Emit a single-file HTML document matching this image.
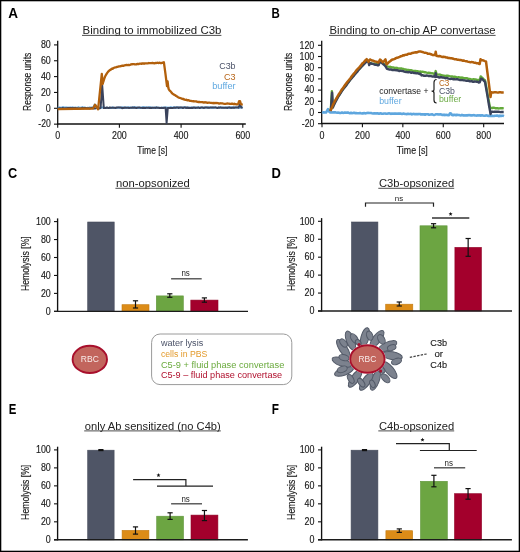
<!DOCTYPE html>
<html><head><meta charset="utf-8"><style>
html,body{margin:0;padding:0;background:#fff;}
svg{display:block;font-family:"Liberation Sans", sans-serif;will-change:transform;}
</style></head><body>
<svg width="520" height="552" viewBox="0 0 520 552">
<rect width="520" height="552" fill="#fff"/>
<rect x="0.6" y="0.6" width="518.8" height="550.8" fill="none" stroke="#000" stroke-width="1.4"/>
<text x="8.20" y="17.90" font-size="14" fill="#000" text-anchor="start" font-weight="bold" textLength="9.8" lengthAdjust="spacingAndGlyphs" >A</text>
<text x="271.60" y="18.10" font-size="14" fill="#000" text-anchor="start" font-weight="bold" textLength="8.3" lengthAdjust="spacingAndGlyphs" >B</text>
<text x="8.10" y="178.20" font-size="14" fill="#000" text-anchor="start" font-weight="bold" textLength="9.2" lengthAdjust="spacingAndGlyphs" >C</text>
<text x="271.60" y="178.20" font-size="14" fill="#000" text-anchor="start" font-weight="bold" textLength="9.4" lengthAdjust="spacingAndGlyphs" >D</text>
<text x="8.80" y="413.80" font-size="14" fill="#000" text-anchor="start" font-weight="bold" textLength="7.6" lengthAdjust="spacingAndGlyphs" >E</text>
<text x="271.80" y="413.80" font-size="14" fill="#000" text-anchor="start" font-weight="bold" textLength="7.2" lengthAdjust="spacingAndGlyphs" >F</text>
<text x="82.60" y="34.30" font-size="11.2" fill="#222" text-anchor="start" font-weight="normal" textLength="138.8" lengthAdjust="spacingAndGlyphs" >Binding to immobilized C3b</text>
<line x1="82.00" y1="35.40" x2="221.40" y2="35.40" stroke="#3a3a3a" stroke-width="0.9" />
<text x="329.60" y="34.30" font-size="11.2" fill="#222" text-anchor="start" font-weight="normal" textLength="166.0" lengthAdjust="spacingAndGlyphs" >Binding to on-chip AP convertase</text>
<line x1="329.00" y1="35.40" x2="495.60" y2="35.40" stroke="#3a3a3a" stroke-width="0.9" />
<text x="116.00" y="187.20" font-size="11.2" fill="#222" text-anchor="start" font-weight="normal" textLength="73.80000000000001" lengthAdjust="spacingAndGlyphs" >non-opsonized</text>
<line x1="115.40" y1="188.30" x2="189.80" y2="188.30" stroke="#3a3a3a" stroke-width="0.9" />
<text x="378.90" y="187.20" font-size="11.2" fill="#222" text-anchor="start" font-weight="normal" textLength="75.30000000000001" lengthAdjust="spacingAndGlyphs" >C3b-opsonized</text>
<line x1="378.30" y1="188.30" x2="454.20" y2="188.30" stroke="#3a3a3a" stroke-width="0.9" />
<text x="84.80" y="429.80" font-size="11.2" fill="#222" text-anchor="start" font-weight="normal" textLength="136.0" lengthAdjust="spacingAndGlyphs" >only Ab sensitized (no C4b)</text>
<line x1="84.20" y1="430.90" x2="220.80" y2="430.90" stroke="#3a3a3a" stroke-width="0.9" />
<text x="378.90" y="429.80" font-size="11.2" fill="#222" text-anchor="start" font-weight="normal" textLength="75.30000000000001" lengthAdjust="spacingAndGlyphs" >C4b-opsonized</text>
<line x1="378.30" y1="430.90" x2="454.20" y2="430.90" stroke="#3a3a3a" stroke-width="0.9" />
<line x1="57.70" y1="40.80" x2="57.70" y2="124.60" stroke="#111" stroke-width="1.3" />
<line x1="57.10" y1="124.00" x2="245.80" y2="124.00" stroke="#111" stroke-width="1.3" />
<line x1="54.00" y1="124.15" x2="57.70" y2="124.15" stroke="#111" stroke-width="1.1" />
<text x="50.80" y="127.35" font-size="10.3" fill="#1a1a1a" text-anchor="end" font-weight="normal" textLength="12.5" lengthAdjust="spacingAndGlyphs" stroke="#1a1a1a" stroke-width="0.15">-20</text>
<line x1="54.00" y1="108.30" x2="57.70" y2="108.30" stroke="#111" stroke-width="1.1" />
<text x="50.80" y="111.50" font-size="10.3" fill="#1a1a1a" text-anchor="end" font-weight="normal" textLength="4.95" lengthAdjust="spacingAndGlyphs" stroke="#1a1a1a" stroke-width="0.15">0</text>
<line x1="54.00" y1="92.45" x2="57.70" y2="92.45" stroke="#111" stroke-width="1.1" />
<text x="50.80" y="95.65" font-size="10.3" fill="#1a1a1a" text-anchor="end" font-weight="normal" textLength="9.9" lengthAdjust="spacingAndGlyphs" stroke="#1a1a1a" stroke-width="0.15">20</text>
<line x1="54.00" y1="76.60" x2="57.70" y2="76.60" stroke="#111" stroke-width="1.1" />
<text x="50.80" y="79.80" font-size="10.3" fill="#1a1a1a" text-anchor="end" font-weight="normal" textLength="9.9" lengthAdjust="spacingAndGlyphs" stroke="#1a1a1a" stroke-width="0.15">40</text>
<line x1="54.00" y1="60.75" x2="57.70" y2="60.75" stroke="#111" stroke-width="1.1" />
<text x="50.80" y="63.95" font-size="10.3" fill="#1a1a1a" text-anchor="end" font-weight="normal" textLength="9.9" lengthAdjust="spacingAndGlyphs" stroke="#1a1a1a" stroke-width="0.15">60</text>
<line x1="54.00" y1="44.90" x2="57.70" y2="44.90" stroke="#111" stroke-width="1.1" />
<text x="50.80" y="48.10" font-size="10.3" fill="#1a1a1a" text-anchor="end" font-weight="normal" textLength="9.9" lengthAdjust="spacingAndGlyphs" stroke="#1a1a1a" stroke-width="0.15">80</text>
<line x1="57.70" y1="124.00" x2="57.70" y2="127.70" stroke="#111" stroke-width="1.1" />
<text x="57.70" y="138.80" font-size="10.3" fill="#1a1a1a" text-anchor="middle" font-weight="normal" textLength="4.95" lengthAdjust="spacingAndGlyphs" stroke="#1a1a1a" stroke-width="0.15">0</text>
<line x1="119.40" y1="124.00" x2="119.40" y2="127.70" stroke="#111" stroke-width="1.1" />
<text x="119.40" y="138.80" font-size="10.3" fill="#1a1a1a" text-anchor="middle" font-weight="normal" textLength="14.850000000000001" lengthAdjust="spacingAndGlyphs" stroke="#1a1a1a" stroke-width="0.15">200</text>
<line x1="181.10" y1="124.00" x2="181.10" y2="127.70" stroke="#111" stroke-width="1.1" />
<text x="181.10" y="138.80" font-size="10.3" fill="#1a1a1a" text-anchor="middle" font-weight="normal" textLength="14.850000000000001" lengthAdjust="spacingAndGlyphs" stroke="#1a1a1a" stroke-width="0.15">400</text>
<line x1="242.80" y1="124.00" x2="242.80" y2="127.70" stroke="#111" stroke-width="1.1" />
<text x="242.80" y="138.80" font-size="10.3" fill="#1a1a1a" text-anchor="middle" font-weight="normal" textLength="14.850000000000001" lengthAdjust="spacingAndGlyphs" stroke="#1a1a1a" stroke-width="0.15">600</text>
<text x="137.30" y="153.90" font-size="10.8" fill="#1a1a1a" text-anchor="start" font-weight="normal" textLength="30" lengthAdjust="spacingAndGlyphs" stroke="#1a1a1a" stroke-width="0.15">Time [s]</text>
<text transform="translate(30.60,81.80) rotate(-90)" x="0" y="0" font-size="10.3" fill="#1a1a1a" stroke="#1a1a1a" stroke-width="0.15" text-anchor="middle" textLength="58.2" lengthAdjust="spacingAndGlyphs">Response units</text>
<path d="M57.70,107.42L58.70,107.63L59.70,107.51L60.70,107.67L61.70,107.69L62.70,107.30L63.70,107.26L64.70,107.84L65.70,107.43L66.70,107.41L67.70,107.95L68.70,107.58L69.70,107.84L70.70,107.58L71.70,107.70L72.70,107.36L73.70,107.69L74.70,107.86L75.70,107.62L76.70,107.77L77.70,107.72L78.70,107.29L79.70,107.78L80.70,107.66L81.70,107.46L82.70,107.27L83.70,107.86L84.70,107.58L85.70,107.75L86.70,107.87L87.70,107.75L88.70,107.89L89.70,107.53L90.70,107.81L91.70,107.56L92.70,107.90L93.70,106.75L94.70,104.60L95.70,105.27L96.70,106.92L97.70,107.93L98.70,107.56L99.70,107.69L100.70,107.46L101.70,107.61L102.70,107.52L103.70,107.50L104.70,107.66L105.70,107.66L106.70,107.88L107.70,107.73L108.70,107.90L109.70,107.85L110.70,107.94L111.70,107.72L112.70,107.36L113.70,107.85L114.70,107.93L115.70,107.88L116.70,107.65L117.70,107.75L118.70,107.40L119.70,107.83L120.70,107.65L121.70,107.45L122.70,107.29L123.70,107.85L124.70,107.94L125.70,107.31L126.70,107.81L127.70,107.54L128.70,107.36L129.70,107.46L130.70,107.79L131.70,107.86L132.70,107.28L133.70,107.68L134.70,107.28L135.70,107.75L136.70,107.48L137.70,107.87L138.70,107.94L139.70,107.60L140.70,107.95L141.70,107.47L142.70,107.30L143.70,107.67L144.70,107.27L145.70,107.39L146.70,107.54L147.70,107.68L148.70,107.36L149.70,107.28L150.70,107.86L151.70,107.47L152.70,107.92L153.70,107.88L154.70,107.51L155.70,107.57L156.70,107.61L157.70,107.70L158.70,107.67L159.70,107.64L160.70,107.68L161.70,107.91L162.70,107.60L163.70,107.55L164.70,107.75L165.70,107.42L166.70,107.46L167.70,107.93L168.70,107.61L169.70,107.63L170.70,107.26L171.70,107.54L172.70,107.66L173.70,107.26L174.70,107.68L175.70,107.69L176.70,107.29L177.70,107.69L178.70,107.58L179.70,107.73L180.70,107.50L181.70,107.74L182.70,107.77L183.70,107.27L184.70,107.29L185.70,107.72L186.70,107.92L187.70,107.43L188.70,107.57L189.70,107.66L190.70,107.47L191.70,107.50L192.70,107.47L193.70,107.51L194.70,107.67L195.70,107.46L196.70,107.51L197.70,107.79L198.70,107.27L199.70,107.65L200.70,107.76L201.70,107.47L202.70,107.41L203.70,107.81L204.70,107.42L205.70,107.38L206.70,107.55L207.70,107.74L208.70,107.32L209.70,107.48L210.70,107.48L211.70,107.83L212.70,107.56L213.70,107.85L214.70,107.37L215.70,107.49L216.70,107.71L217.70,107.87L218.70,107.57L219.70,107.41L220.70,107.33L221.70,107.62L222.70,107.38L223.70,107.81L224.70,107.84L225.70,107.38L226.70,107.45L227.70,107.82L228.70,107.70L229.70,107.81L230.70,107.49L231.70,107.34L232.70,107.45L233.70,107.81L234.70,107.44L235.70,107.49L236.70,107.54L237.70,107.54L238.70,107.54L239.70,107.89L240.70,107.36L241.70,107.25L242.70,107.91" fill="none" stroke="#5ea6de" stroke-width="2.0" stroke-linejoin="round" />
<path d="M57.70,108.47L58.72,108.54L59.74,108.15L60.76,108.52L61.79,108.50L62.81,108.01L63.83,108.37L64.85,108.44L65.87,108.31L66.89,108.21L67.91,108.05L68.94,108.09L69.96,108.01L70.98,107.90L72.00,108.26L73.02,108.05L74.04,108.42L75.06,107.88L76.09,108.48L77.11,108.34L78.13,108.50L79.15,108.48L80.17,108.48L81.19,108.25L82.21,107.86L83.24,108.37L84.26,107.97L85.28,108.06L86.30,108.31L87.32,108.22L88.34,108.14L89.36,108.51L90.39,108.28L91.41,108.09L92.43,108.03L93.45,108.45L94.47,108.18L95.49,108.40L96.51,108.10L97.54,107.99L98.56,108.22L99.58,108.42L100.60,107.97L102.20,85.20L103.80,108.10L104.81,108.01L105.83,108.03L106.84,107.46L107.85,107.89L108.87,108.05L109.88,107.48L110.89,107.64L111.90,107.64L112.92,107.82L113.93,107.75L114.94,107.78L115.96,107.99L116.97,107.45L117.98,107.49L119.00,107.54L120.01,107.54L121.02,107.50L122.04,108.13L123.05,108.05L124.06,107.51L125.08,107.80L126.09,107.67L127.10,107.67L128.11,107.70L129.13,107.90L130.14,107.86L131.15,107.70L132.17,107.58L133.18,107.68L134.19,107.54L135.21,107.84L136.22,107.95L137.23,107.72L138.25,107.51L139.26,107.57L140.27,107.71L141.29,107.87L142.30,108.00L143.31,107.72L144.32,108.01L145.34,107.89L146.35,107.75L147.36,107.71L148.38,107.80L149.39,107.94L150.40,107.74L151.42,107.94L152.43,107.77L153.44,107.62L154.46,107.83L155.47,107.94L156.48,107.50L157.50,107.75L158.51,107.75L159.52,108.07L160.53,108.11L161.55,107.71L162.56,108.08L163.57,108.00L164.59,107.63L165.60,107.77L166.60,122.94L167.80,108.02L168.81,107.91L169.82,108.07L170.83,108.00L171.84,107.91L172.85,107.95L173.86,107.83L174.87,107.50L175.88,107.84L176.89,107.43L177.90,107.52L178.91,107.96L179.92,107.45L180.93,107.48L181.94,107.48L182.95,108.02L183.96,107.53L184.97,107.42L185.98,107.99L186.99,107.48L188.00,107.98L189.01,107.86L190.02,107.97L191.03,108.05L192.04,107.79L193.05,107.94L194.06,107.40L195.07,107.91L196.08,107.73L197.09,107.87L198.10,107.44L199.11,107.89L200.12,108.01L201.13,107.40L202.14,107.58L203.15,107.74L204.16,107.93L205.17,107.51L206.18,107.47L207.19,107.51L208.20,107.77L209.21,107.86L210.22,107.61L211.23,107.58L212.24,107.60L213.25,107.57L214.26,107.61L215.27,107.37L216.28,107.66L217.29,107.99L218.30,107.60L219.31,107.83L220.32,107.41L221.33,107.78L222.34,107.82L223.35,107.76L224.36,107.65L225.37,107.63L226.38,107.73L227.39,107.91L228.40,107.38L229.41,107.34L230.42,107.80L231.43,107.91L232.44,107.63L233.45,107.57L234.46,107.76L235.47,107.39L236.48,107.44L237.49,107.39L238.50,107.66L240.00,104.37L241.30,107.41L242.60,107.73" fill="none" stroke="#3a435c" stroke-width="2.0" stroke-linejoin="round" />
<path d="M57.70,109.07L93.00,108.48L95.00,104.72L98.10,109.25L101.80,73.81L102.70,84.05L103.36,81.53L104.28,78.65L105.21,76.25L106.13,74.69L107.06,73.14L107.99,71.81L108.91,70.93L109.84,70.09L110.76,69.67L111.69,68.72L112.61,68.73L113.54,68.00L114.46,67.71L115.39,67.30L116.31,67.23L117.24,66.97L118.17,66.57L119.09,66.31L120.02,66.26L120.94,66.16L121.87,65.72L122.79,65.76L123.72,65.75L124.64,65.31L125.57,65.04L126.50,64.92L127.42,65.09L128.35,64.95L129.27,65.01L130.20,64.84L131.12,64.38L132.05,64.25L132.97,64.21L133.90,64.08L134.82,64.31L135.75,64.32L136.68,64.27L137.60,63.81L138.53,64.11L139.45,63.71L140.38,63.72L141.30,63.84L142.23,63.40L143.15,63.35L144.08,63.74L145.01,63.36L145.93,63.35L146.86,63.44L147.78,63.45L148.71,63.01L149.63,63.17L150.56,63.19L151.48,63.18L152.41,62.98L153.34,63.17L154.26,63.36L155.19,62.99L156.11,63.05L157.04,62.77L157.96,62.83L158.89,63.04L159.81,62.68L160.74,63.12L161.66,63.11L162.59,62.60L163.52,63.09L163.90,62.32L165.50,74.16L167.00,86.15L167.60,81.38L168.30,87.61L168.76,89.30L169.69,90.58L170.61,91.34L171.54,92.60L172.46,93.60L173.39,94.21L174.31,94.84L175.24,95.23L176.16,96.05L177.09,96.49L178.01,97.20L178.94,97.61L179.87,97.95L180.79,98.09L181.72,98.70L182.64,99.00L183.57,99.02L184.49,99.71L185.42,99.81L186.34,99.72L187.27,100.42L188.20,100.14L189.12,100.43L190.05,100.84L190.97,100.92L191.90,101.05L192.82,101.25L193.75,101.27L194.67,101.30L195.60,101.34L196.52,101.39L197.45,101.89L198.38,102.01L199.30,101.98L200.23,102.20L201.15,102.06L202.08,102.09L203.00,102.24L203.93,102.61L204.85,102.19L205.78,102.54L206.71,102.46L207.63,102.84L208.56,102.66L209.48,102.71L210.41,102.81L211.33,102.95L212.26,103.15L213.18,102.95L214.11,103.30L215.04,102.91L215.96,103.06L216.89,103.01L217.81,103.06L218.74,103.51L219.66,103.52L220.59,103.24L221.51,103.29L222.44,103.47L223.36,103.70L224.29,103.79L225.22,103.78L226.14,103.73L227.07,103.50L227.99,103.68L228.92,103.60L229.84,103.83L230.77,103.89L231.69,103.70L232.62,103.76L233.55,104.11L234.47,103.69L235.40,104.18L236.32,104.26L237.25,104.32L238.17,104.01L239.10,101.14L240.02,101.18L240.95,104.24L241.87,104.47L242.80,104.32" fill="none" stroke="#b2600c" stroke-width="2.3" stroke-linejoin="round" />
<text x="235.60" y="68.90" font-size="9" fill="#4b5268" text-anchor="end" font-weight="normal" textLength="16.4" lengthAdjust="spacingAndGlyphs" >C3b</text>
<text x="235.60" y="79.90" font-size="9" fill="#b8661a" text-anchor="end" font-weight="normal" textLength="11.6" lengthAdjust="spacingAndGlyphs" >C3</text>
<text x="235.60" y="89.20" font-size="9" fill="#5fa8e0" text-anchor="end" font-weight="normal" textLength="23.4" lengthAdjust="spacingAndGlyphs" >buffer</text>
<line x1="321.70" y1="40.80" x2="321.70" y2="124.10" stroke="#111" stroke-width="1.3" />
<line x1="321.10" y1="123.50" x2="504.00" y2="123.50" stroke="#111" stroke-width="1.3" />
<line x1="318.00" y1="123.70" x2="321.70" y2="123.70" stroke="#111" stroke-width="1.1" />
<text x="314.30" y="126.90" font-size="10.3" fill="#1a1a1a" text-anchor="end" font-weight="normal" textLength="12.5" lengthAdjust="spacingAndGlyphs" stroke="#1a1a1a" stroke-width="0.15">-20</text>
<line x1="318.00" y1="112.50" x2="321.70" y2="112.50" stroke="#111" stroke-width="1.1" />
<text x="314.30" y="115.70" font-size="10.3" fill="#1a1a1a" text-anchor="end" font-weight="normal" textLength="4.95" lengthAdjust="spacingAndGlyphs" stroke="#1a1a1a" stroke-width="0.15">0</text>
<line x1="318.00" y1="101.30" x2="321.70" y2="101.30" stroke="#111" stroke-width="1.1" />
<text x="314.30" y="104.50" font-size="10.3" fill="#1a1a1a" text-anchor="end" font-weight="normal" textLength="9.9" lengthAdjust="spacingAndGlyphs" stroke="#1a1a1a" stroke-width="0.15">20</text>
<line x1="318.00" y1="90.10" x2="321.70" y2="90.10" stroke="#111" stroke-width="1.1" />
<text x="314.30" y="93.30" font-size="10.3" fill="#1a1a1a" text-anchor="end" font-weight="normal" textLength="9.9" lengthAdjust="spacingAndGlyphs" stroke="#1a1a1a" stroke-width="0.15">40</text>
<line x1="318.00" y1="78.90" x2="321.70" y2="78.90" stroke="#111" stroke-width="1.1" />
<text x="314.30" y="82.10" font-size="10.3" fill="#1a1a1a" text-anchor="end" font-weight="normal" textLength="9.9" lengthAdjust="spacingAndGlyphs" stroke="#1a1a1a" stroke-width="0.15">60</text>
<line x1="318.00" y1="67.70" x2="321.70" y2="67.70" stroke="#111" stroke-width="1.1" />
<text x="314.30" y="70.90" font-size="10.3" fill="#1a1a1a" text-anchor="end" font-weight="normal" textLength="9.9" lengthAdjust="spacingAndGlyphs" stroke="#1a1a1a" stroke-width="0.15">80</text>
<line x1="318.00" y1="56.50" x2="321.70" y2="56.50" stroke="#111" stroke-width="1.1" />
<text x="314.30" y="59.70" font-size="10.3" fill="#1a1a1a" text-anchor="end" font-weight="normal" textLength="14.850000000000001" lengthAdjust="spacingAndGlyphs" stroke="#1a1a1a" stroke-width="0.15">100</text>
<line x1="318.00" y1="45.30" x2="321.70" y2="45.30" stroke="#111" stroke-width="1.1" />
<text x="314.30" y="48.50" font-size="10.3" fill="#1a1a1a" text-anchor="end" font-weight="normal" textLength="14.850000000000001" lengthAdjust="spacingAndGlyphs" stroke="#1a1a1a" stroke-width="0.15">120</text>
<line x1="322.00" y1="123.50" x2="322.00" y2="127.20" stroke="#111" stroke-width="1.1" />
<text x="322.00" y="138.80" font-size="10.3" fill="#1a1a1a" text-anchor="middle" font-weight="normal" textLength="4.95" lengthAdjust="spacingAndGlyphs" stroke="#1a1a1a" stroke-width="0.15">0</text>
<line x1="362.42" y1="123.50" x2="362.42" y2="127.20" stroke="#111" stroke-width="1.1" />
<text x="362.42" y="138.80" font-size="10.3" fill="#1a1a1a" text-anchor="middle" font-weight="normal" textLength="14.850000000000001" lengthAdjust="spacingAndGlyphs" stroke="#1a1a1a" stroke-width="0.15">200</text>
<line x1="402.84" y1="123.50" x2="402.84" y2="127.20" stroke="#111" stroke-width="1.1" />
<text x="402.84" y="138.80" font-size="10.3" fill="#1a1a1a" text-anchor="middle" font-weight="normal" textLength="14.850000000000001" lengthAdjust="spacingAndGlyphs" stroke="#1a1a1a" stroke-width="0.15">400</text>
<line x1="443.26" y1="123.50" x2="443.26" y2="127.20" stroke="#111" stroke-width="1.1" />
<text x="443.26" y="138.80" font-size="10.3" fill="#1a1a1a" text-anchor="middle" font-weight="normal" textLength="14.850000000000001" lengthAdjust="spacingAndGlyphs" stroke="#1a1a1a" stroke-width="0.15">600</text>
<line x1="483.68" y1="123.50" x2="483.68" y2="127.20" stroke="#111" stroke-width="1.1" />
<text x="483.68" y="138.80" font-size="10.3" fill="#1a1a1a" text-anchor="middle" font-weight="normal" textLength="14.850000000000001" lengthAdjust="spacingAndGlyphs" stroke="#1a1a1a" stroke-width="0.15">800</text>
<text x="396.80" y="153.90" font-size="10.8" fill="#1a1a1a" text-anchor="start" font-weight="normal" textLength="31" lengthAdjust="spacingAndGlyphs" stroke="#1a1a1a" stroke-width="0.15">Time [s]</text>
<text transform="translate(292.30,81.80) rotate(-90)" x="0" y="0" font-size="10.3" fill="#1a1a1a" stroke="#1a1a1a" stroke-width="0.15" text-anchor="middle" textLength="58.2" lengthAdjust="spacingAndGlyphs">Response units</text>
<path d="M322.00,112.16L323.00,112.57L324.00,112.33L325.00,112.43L326.00,112.54L327.00,110.89L328.00,109.11L329.00,111.39L330.00,112.46L331.00,112.50L332.00,112.48L333.00,112.31L334.00,112.56L335.00,112.24L336.00,112.58L337.00,112.71L338.00,112.59L339.00,112.69L340.00,112.99L341.00,112.96L342.00,112.45L343.00,112.93L344.00,112.83L345.00,112.45L346.00,112.69L347.00,112.62L348.00,112.53L349.00,112.88L350.00,113.17L351.00,112.77L352.00,113.17L353.00,113.07L354.00,112.69L355.00,113.22L356.00,113.06L357.00,113.31L358.00,113.18L359.00,113.22L360.00,112.96L361.00,113.31L362.00,113.42L363.00,113.39L364.00,113.11L365.00,113.35L366.00,113.18L367.00,112.94L368.00,112.92L369.00,112.96L370.00,113.07L371.00,113.06L372.00,113.31L373.00,113.48L374.00,113.38L375.00,113.32L376.00,113.50L377.00,113.28L378.00,113.41L379.00,113.64L380.00,113.41L381.00,113.28L382.00,113.80L383.00,113.69L384.00,113.47L385.00,113.49L386.00,113.62L387.00,113.69L388.00,113.45L389.00,113.31L390.00,113.48L391.00,113.90L392.00,113.47L393.00,113.72L394.00,113.55L395.00,113.58L396.00,113.57L397.00,113.76L398.00,113.61L399.00,113.53L400.00,113.61L401.00,113.67L402.00,113.92L403.00,113.64L404.00,113.63L405.00,113.95L406.00,113.94L407.00,114.17L408.00,113.73L409.00,114.00L410.00,114.02L411.00,113.78L412.00,114.46L413.00,113.95L414.00,113.89L415.00,114.17L416.00,113.98L417.00,114.32L418.00,114.14L419.00,114.01L420.00,113.98L421.00,114.47L422.00,114.18L423.00,114.55L424.00,114.35L425.00,114.70L426.00,114.27L427.00,114.26L428.00,114.29L429.00,114.70L430.00,114.59L431.00,114.41L432.00,114.25L433.00,114.68L434.00,114.91L435.00,114.66L436.00,114.27L437.00,114.31L438.00,114.37L439.00,114.45L440.00,114.37L441.00,114.41L442.00,114.85L443.00,115.04L444.00,114.57L445.00,115.13L446.00,114.80L447.00,115.05L448.00,115.15L449.00,115.19L450.00,113.33L451.00,113.54L452.00,115.02L453.00,115.28L454.00,114.69L455.00,114.86L456.00,115.27L457.00,114.77L458.00,114.99L459.00,114.97L460.00,115.23L461.00,115.43L462.00,114.92L463.00,115.33L464.00,115.35L465.00,115.44L466.00,115.26L467.00,115.54L468.00,115.17L469.00,115.23L470.00,115.12L471.00,115.52L472.00,115.34L473.00,115.21L474.00,115.16L475.00,115.56L476.00,115.50L477.00,115.60L478.00,115.39L479.00,115.48L480.00,115.27L481.00,115.68L482.00,115.22L483.00,115.55L484.00,115.77L485.00,115.74L486.00,115.35L487.00,115.47L488.00,115.92L489.00,115.79L490.00,115.98L491.00,116.00L492.00,115.72L493.00,116.05L494.00,115.96L495.00,115.70L496.00,115.75L497.00,115.56L498.00,115.81L499.00,116.22L500.00,115.64L501.00,115.99L502.00,115.69L503.00,115.69L504.00,116.10" fill="none" stroke="#5ea6de" stroke-width="2.6" stroke-linejoin="round" />
<path d="M330.80,110.64L331.90,91.13L332.70,107.29L333.28,105.68L334.75,102.50L336.23,99.40L337.70,97.00L339.18,95.06L340.65,92.35L342.12,90.39L343.60,88.22L345.07,86.41L346.55,84.33L348.02,82.52L349.50,80.49L350.98,78.44L352.45,76.63L353.93,74.80L355.40,73.51L356.88,71.36L358.35,69.62L359.82,68.52L361.30,66.41L362.77,65.20L364.25,63.11L365.73,61.75L367.20,60.03L369.00,63.00L370.06,63.07L371.11,63.29L372.17,63.56L373.22,63.82L374.28,63.71L375.33,64.06L376.39,64.17L377.44,64.17L378.50,64.80L380.20,60.86L381.36,61.95L382.52,62.54L383.68,63.70L384.84,64.62L386.00,65.74L387.20,66.35L388.21,66.66L389.22,66.90L390.23,66.80L391.24,67.24L392.24,67.51L393.25,67.47L394.26,67.76L395.27,67.89L396.28,67.80L397.29,68.04L398.30,68.58L399.31,68.34L400.31,68.55L401.32,68.49L402.33,68.72L403.34,68.85L404.35,69.46L405.36,69.49L406.37,69.73L407.38,69.95L408.39,69.88L409.39,70.22L410.40,70.14L411.41,70.22L412.42,70.69L413.43,70.82L414.44,71.00L415.45,70.87L416.46,71.20L417.46,71.13L418.47,71.64L419.48,71.75L420.49,71.52L421.50,72.06L422.54,71.76L423.58,71.87L424.62,72.39L425.65,72.29L426.69,72.58L427.73,72.81L428.77,72.60L429.81,73.18L430.85,73.05L431.88,73.30L432.92,73.40L433.96,73.79L435.00,73.95L435.70,71.07L436.50,74.16L437.50,74.42L438.51,74.62L439.51,74.56L440.52,74.74L441.52,75.24L442.53,75.34L443.53,75.65L444.54,75.79L445.54,75.86L446.55,75.70L447.55,75.71L448.56,75.93L449.56,76.16L450.57,76.34L451.57,76.48L452.57,76.51L453.58,76.94L454.58,76.74L455.59,76.98L456.59,77.38L457.60,77.47L458.60,77.30L459.61,77.40L460.61,77.88L461.62,77.54L462.62,77.75L463.63,78.12L464.63,78.26L465.63,78.18L466.64,78.25L467.64,78.48L468.65,78.95L469.65,78.91L470.66,79.35L471.66,79.37L472.67,79.63L473.67,79.20L474.68,79.42L475.68,79.46L476.69,79.85L477.69,79.93L478.70,79.89L479.70,80.33L480.70,76.36L481.77,77.44L482.85,78.35L483.93,79.63L485.00,80.35L486.00,85.72L487.00,91.05L488.00,96.74L489.00,102.32L490.00,107.81L491.05,108.02L492.11,108.02L493.16,107.76L494.22,107.76L495.27,108.20L496.32,108.29L497.38,108.19L498.43,108.45L499.48,108.35L500.54,108.26L501.59,108.26L502.65,108.24L503.70,108.69" fill="none" stroke="#63aa3a" stroke-width="2.4" stroke-linejoin="round" />
<path d="M330.80,111.04L332.10,92.74L332.90,107.48L333.47,105.91L334.93,102.93L336.40,100.12L337.87,97.47L339.33,94.99L340.80,92.80L342.27,90.44L343.73,88.36L345.20,86.65L346.67,84.87L348.13,82.69L349.60,80.73L351.07,78.87L352.53,77.13L354.00,75.58L355.47,73.63L356.93,72.22L358.40,70.06L359.87,68.49L361.33,66.98L362.80,65.29L364.27,63.96L365.73,62.36L367.20,60.86L368.60,62.57L369.20,65.12L369.80,63.24L370.89,63.50L371.98,63.74L373.06,63.89L374.15,64.43L375.24,64.82L376.32,64.61L377.41,65.23L378.50,65.32L380.30,61.01L381.44,62.40L382.58,63.60L383.72,64.57L384.86,65.46L386.00,67.05L387.00,68.81L388.01,69.08L389.02,69.49L390.04,69.34L391.05,69.46L392.06,70.01L393.07,70.16L394.08,69.93L395.10,70.12L396.11,70.21L397.12,70.26L398.13,70.48L399.15,71.07L400.16,70.68L401.17,70.92L402.18,71.05L403.19,71.12L404.21,71.54L405.22,71.82L406.23,72.02L407.24,72.05L408.25,72.31L409.27,71.97L410.28,72.28L411.29,72.84L412.30,72.45L413.32,72.72L414.33,73.00L415.34,73.02L416.35,73.33L417.36,73.18L418.38,73.44L419.39,74.03L420.40,73.69L421.50,75.44L422.55,75.11L423.61,75.71L424.66,75.63L425.72,75.72L426.77,75.52L427.82,75.58L428.88,76.11L429.93,75.87L430.98,75.98L432.04,76.47L433.09,76.61L434.15,76.22L435.20,76.88L435.70,73.22L436.40,76.83L437.41,76.79L438.41,77.09L439.42,77.57L440.43,77.27L441.43,77.31L442.44,77.44L443.45,77.56L444.46,77.82L445.46,78.28L446.47,77.90L447.48,78.10L448.48,78.67L449.49,78.83L450.50,78.95L451.50,78.63L452.51,78.82L453.52,79.31L454.53,79.15L455.53,79.41L456.54,79.30L457.55,79.25L458.55,79.57L459.56,79.94L460.57,80.08L461.57,80.08L462.58,80.14L463.59,80.31L464.60,80.38L465.60,80.56L466.61,80.87L467.62,80.61L468.62,80.98L469.63,81.30L470.64,81.38L471.64,81.10L472.65,81.70L473.66,81.75L474.67,81.47L475.67,81.66L476.68,81.74L477.69,81.78L478.69,82.46L479.70,82.25L481.00,78.72L482.00,79.02L483.00,79.71L484.00,80.97L485.00,81.68L486.00,87.67L487.00,93.37L488.00,99.16L489.00,105.18L490.00,110.66L490.50,114.02L491.20,111.76L492.24,111.59L493.28,111.86L494.32,111.69L495.37,111.80L496.41,111.72L497.45,111.69L498.49,111.72L499.53,111.86L500.57,112.09L501.62,112.06L502.66,112.02L503.70,112.00" fill="none" stroke="#3a435c" stroke-width="2.4" stroke-linejoin="round" />
<path d="M330.20,110.87L331.44,108.66L332.68,105.60L334.16,102.27L335.64,99.65L337.12,97.18L338.60,94.49L340.07,92.34L341.55,89.89L343.03,88.14L344.51,85.74L345.99,83.73L347.47,81.78L348.95,80.04L350.43,78.21L351.91,76.08L353.39,74.19L354.87,72.50L356.35,70.40L357.82,68.87L359.30,67.40L360.78,65.66L362.26,63.55L363.74,62.37L365.22,60.45L366.70,59.19L368.50,61.92L370.00,59.43L371.06,59.99L372.12,60.56L373.19,60.65L374.25,61.27L375.31,61.54L376.38,61.69L377.44,62.02L378.50,62.50L380.00,59.54L381.00,60.32L382.00,61.29L383.00,62.23L384.25,60.85L385.50,59.39L386.50,64.23L386.50,64.32L387.50,63.63L388.50,62.50L389.50,61.63L390.50,60.93L391.50,60.07L392.60,59.40L393.70,59.18L394.80,58.89L395.90,58.14L397.00,57.74L398.00,57.45L399.00,57.10L400.00,56.80L401.00,56.16L402.00,55.96L403.00,55.27L404.00,55.46L405.00,54.89L406.00,54.69L407.00,54.67L408.00,54.04L409.00,53.71L410.12,53.85L411.24,53.48L412.36,52.93L413.48,52.66L414.60,52.61L415.76,52.16L416.92,52.42L418.08,51.79L419.24,51.60L420.40,51.43L421.46,51.79L422.51,52.02L423.57,52.41L424.63,52.71L425.69,52.85L426.74,52.93L427.80,53.74L428.86,53.84L429.91,53.76L430.97,54.25L432.03,54.72L433.09,55.14L434.14,54.86L435.20,55.11L435.70,51.79L436.30,55.55L437.31,56.03L438.32,56.17L439.33,56.06L440.34,56.30L441.35,56.59L442.36,56.96L443.37,56.74L444.37,57.04L445.38,57.05L446.39,57.57L447.40,57.39L448.41,58.12L449.42,58.06L450.43,58.28L451.44,58.18L452.45,58.45L453.46,58.78L454.47,59.21L455.48,59.20L456.49,59.24L457.50,59.85L458.50,59.84L459.51,59.95L460.52,59.94L461.53,60.19L462.54,60.74L463.55,60.47L464.56,60.89L465.57,61.13L466.58,61.16L467.59,61.60L468.60,61.87L469.61,62.03L470.62,62.15L471.63,62.02L472.63,62.12L473.64,62.53L474.65,62.65L475.66,62.76L476.67,63.36L477.68,63.15L478.69,63.71L479.70,63.96L480.50,59.27L481.60,60.19L482.70,60.32L483.80,60.65L484.90,61.07L486.00,61.42L487.27,71.33L488.53,80.90L489.80,90.81L490.50,97.10L491.20,92.23L492.24,92.44L493.28,92.43L494.32,92.31L495.37,92.35L496.41,92.36L497.45,92.62L498.49,92.40L499.53,92.27L500.57,92.33L501.62,92.47L502.66,92.54L503.70,92.35" fill="none" stroke="#b2600c" stroke-width="2.5" stroke-linejoin="round" />
<text x="379.20" y="93.80" font-size="9" fill="#1a1a1a" text-anchor="start" font-weight="normal" textLength="49.3" lengthAdjust="spacingAndGlyphs" >convertase +</text>
<text x="379.20" y="103.90" font-size="9" fill="#5fa8e0" text-anchor="start" font-weight="normal" textLength="22.4" lengthAdjust="spacingAndGlyphs" >buffer</text>
<path d="M436.6,79.5 Q434.0,79.5 434.0,82.5 L434.0,89.4 Q434.0,91.2 431.6,91.2 Q434.0,91.2 434.0,93.0 L434.0,100 Q434.0,103.0 436.6,103.0" fill="none" stroke="#222" stroke-width="1.2"/>
<text x="438.90" y="86.30" font-size="9.2" fill="#b8661a" text-anchor="start" font-weight="normal" textLength="10.4" lengthAdjust="spacingAndGlyphs" >C3</text>
<text x="438.90" y="94.40" font-size="9.2" fill="#4b5268" text-anchor="start" font-weight="normal" textLength="16.0" lengthAdjust="spacingAndGlyphs" >C3b</text>
<text x="438.90" y="101.90" font-size="9.2" fill="#6cab45" text-anchor="start" font-weight="normal" textLength="22.4" lengthAdjust="spacingAndGlyphs" >buffer</text>
<line x1="54.00" y1="311.35" x2="57.60" y2="311.35" stroke="#111" stroke-width="1.1" />
<text x="50.80" y="314.55" font-size="10.3" fill="#1a1a1a" text-anchor="end" font-weight="normal" textLength="4.95" lengthAdjust="spacingAndGlyphs" stroke="#1a1a1a" stroke-width="0.15">0</text>
<line x1="54.00" y1="293.40" x2="57.60" y2="293.40" stroke="#111" stroke-width="1.1" />
<text x="50.80" y="296.60" font-size="10.3" fill="#1a1a1a" text-anchor="end" font-weight="normal" textLength="9.9" lengthAdjust="spacingAndGlyphs" stroke="#1a1a1a" stroke-width="0.15">20</text>
<line x1="54.00" y1="275.45" x2="57.60" y2="275.45" stroke="#111" stroke-width="1.1" />
<text x="50.80" y="278.65" font-size="10.3" fill="#1a1a1a" text-anchor="end" font-weight="normal" textLength="9.9" lengthAdjust="spacingAndGlyphs" stroke="#1a1a1a" stroke-width="0.15">40</text>
<line x1="54.00" y1="257.50" x2="57.60" y2="257.50" stroke="#111" stroke-width="1.1" />
<text x="50.80" y="260.70" font-size="10.3" fill="#1a1a1a" text-anchor="end" font-weight="normal" textLength="9.9" lengthAdjust="spacingAndGlyphs" stroke="#1a1a1a" stroke-width="0.15">60</text>
<line x1="54.00" y1="239.55" x2="57.60" y2="239.55" stroke="#111" stroke-width="1.1" />
<text x="50.80" y="242.75" font-size="10.3" fill="#1a1a1a" text-anchor="end" font-weight="normal" textLength="9.9" lengthAdjust="spacingAndGlyphs" stroke="#1a1a1a" stroke-width="0.15">80</text>
<line x1="54.00" y1="221.60" x2="57.60" y2="221.60" stroke="#111" stroke-width="1.1" />
<text x="50.80" y="224.80" font-size="10.3" fill="#1a1a1a" text-anchor="end" font-weight="normal" textLength="14.850000000000001" lengthAdjust="spacingAndGlyphs" stroke="#1a1a1a" stroke-width="0.15">100</text>
<text transform="translate(29.00,263.60) rotate(-90)" x="0" y="0" font-size="10.8" fill="#1a1a1a" stroke="#1a1a1a" stroke-width="0.15" text-anchor="middle" textLength="54.6" lengthAdjust="spacingAndGlyphs">Hemolysis [%]</text>
<rect x="87.70" y="222.00" width="26.50" height="89.35" fill="#4f5566" stroke="#454b5a" stroke-width="0.6"/>
<rect x="122.00" y="304.70" width="27.00" height="6.65" fill="#dc8c18" stroke="#c27a10" stroke-width="0.6"/>
<rect x="156.30" y="295.90" width="27.00" height="15.45" fill="#6ca542" stroke="#5f953a" stroke-width="0.6"/>
<rect x="190.80" y="300.10" width="27.20" height="11.25" fill="#a3002c" stroke="#8f0025" stroke-width="0.6"/>
<line x1="57.60" y1="218.40" x2="57.60" y2="311.95" stroke="#111" stroke-width="1.35" />
<line x1="54.00" y1="311.35" x2="248.00" y2="311.35" stroke="#1c1c1c" stroke-width="1.45" />
<line x1="135.50" y1="300.80" x2="135.50" y2="308.00" stroke="#111" stroke-width="1.2" />
<line x1="132.90" y1="300.80" x2="138.10" y2="300.80" stroke="#111" stroke-width="1.2" />
<line x1="132.90" y1="308.00" x2="138.10" y2="308.00" stroke="#111" stroke-width="1.2" />
<line x1="169.80" y1="293.80" x2="169.80" y2="297.30" stroke="#111" stroke-width="1.2" />
<line x1="167.20" y1="293.80" x2="172.40" y2="293.80" stroke="#111" stroke-width="1.2" />
<line x1="167.20" y1="297.30" x2="172.40" y2="297.30" stroke="#111" stroke-width="1.2" />
<line x1="204.40" y1="297.90" x2="204.40" y2="302.20" stroke="#111" stroke-width="1.2" />
<line x1="201.80" y1="297.90" x2="207.00" y2="297.90" stroke="#111" stroke-width="1.2" />
<line x1="201.80" y1="302.20" x2="207.00" y2="302.20" stroke="#111" stroke-width="1.2" />
<line x1="171.10" y1="278.80" x2="201.70" y2="278.80" stroke="#444" stroke-width="1.3" />
<text x="185.60" y="275.80" font-size="8.6" fill="#222" text-anchor="middle" font-weight="normal" textLength="8.4" lengthAdjust="spacingAndGlyphs" >ns</text>
<line x1="318.00" y1="311.00" x2="321.60" y2="311.00" stroke="#111" stroke-width="1.1" />
<text x="314.50" y="314.20" font-size="10.3" fill="#1a1a1a" text-anchor="end" font-weight="normal" textLength="4.95" lengthAdjust="spacingAndGlyphs" stroke="#1a1a1a" stroke-width="0.15">0</text>
<line x1="318.00" y1="293.06" x2="321.60" y2="293.06" stroke="#111" stroke-width="1.1" />
<text x="314.50" y="296.26" font-size="10.3" fill="#1a1a1a" text-anchor="end" font-weight="normal" textLength="9.9" lengthAdjust="spacingAndGlyphs" stroke="#1a1a1a" stroke-width="0.15">20</text>
<line x1="318.00" y1="275.12" x2="321.60" y2="275.12" stroke="#111" stroke-width="1.1" />
<text x="314.50" y="278.32" font-size="10.3" fill="#1a1a1a" text-anchor="end" font-weight="normal" textLength="9.9" lengthAdjust="spacingAndGlyphs" stroke="#1a1a1a" stroke-width="0.15">40</text>
<line x1="318.00" y1="257.18" x2="321.60" y2="257.18" stroke="#111" stroke-width="1.1" />
<text x="314.50" y="260.38" font-size="10.3" fill="#1a1a1a" text-anchor="end" font-weight="normal" textLength="9.9" lengthAdjust="spacingAndGlyphs" stroke="#1a1a1a" stroke-width="0.15">60</text>
<line x1="318.00" y1="239.24" x2="321.60" y2="239.24" stroke="#111" stroke-width="1.1" />
<text x="314.50" y="242.44" font-size="10.3" fill="#1a1a1a" text-anchor="end" font-weight="normal" textLength="9.9" lengthAdjust="spacingAndGlyphs" stroke="#1a1a1a" stroke-width="0.15">80</text>
<line x1="318.00" y1="221.30" x2="321.60" y2="221.30" stroke="#111" stroke-width="1.1" />
<text x="314.50" y="224.50" font-size="10.3" fill="#1a1a1a" text-anchor="end" font-weight="normal" textLength="14.850000000000001" lengthAdjust="spacingAndGlyphs" stroke="#1a1a1a" stroke-width="0.15">100</text>
<text transform="translate(294.60,263.70) rotate(-90)" x="0" y="0" font-size="10.8" fill="#1a1a1a" stroke="#1a1a1a" stroke-width="0.15" text-anchor="middle" textLength="54.7" lengthAdjust="spacingAndGlyphs">Hemolysis [%]</text>
<rect x="351.50" y="222.00" width="26.40" height="89.00" fill="#4f5566" stroke="#454b5a" stroke-width="0.6"/>
<rect x="385.70" y="304.20" width="27.10" height="6.80" fill="#dc8c18" stroke="#c27a10" stroke-width="0.6"/>
<rect x="420.00" y="225.80" width="27.10" height="85.20" fill="#6ca542" stroke="#5f953a" stroke-width="0.6"/>
<rect x="454.90" y="247.40" width="26.50" height="63.60" fill="#a3002c" stroke="#8f0025" stroke-width="0.6"/>
<line x1="321.60" y1="218.10" x2="321.60" y2="311.60" stroke="#111" stroke-width="1.35" />
<line x1="318.00" y1="311.00" x2="512.00" y2="311.00" stroke="#1c1c1c" stroke-width="1.45" />
<line x1="399.25" y1="302.00" x2="399.25" y2="306.00" stroke="#111" stroke-width="1.2" />
<line x1="396.65" y1="302.00" x2="401.85" y2="302.00" stroke="#111" stroke-width="1.2" />
<line x1="396.65" y1="306.00" x2="401.85" y2="306.00" stroke="#111" stroke-width="1.2" />
<line x1="433.55" y1="223.70" x2="433.55" y2="227.80" stroke="#111" stroke-width="1.2" />
<line x1="430.95" y1="223.70" x2="436.15" y2="223.70" stroke="#111" stroke-width="1.2" />
<line x1="430.95" y1="227.80" x2="436.15" y2="227.80" stroke="#111" stroke-width="1.2" />
<line x1="468.15" y1="238.50" x2="468.15" y2="256.30" stroke="#111" stroke-width="1.2" />
<line x1="465.55" y1="238.50" x2="470.75" y2="238.50" stroke="#111" stroke-width="1.2" />
<line x1="465.55" y1="256.30" x2="470.75" y2="256.30" stroke="#111" stroke-width="1.2" />
<path d="M365.5,206.8 L365.5,203 L433.5,203 L433.5,206.8" fill="none" stroke="#222" stroke-width="1.2"/>
<text x="399.00" y="201.10" font-size="7.8" fill="#222" text-anchor="middle" font-weight="normal" textLength="8.4" lengthAdjust="spacingAndGlyphs" >ns</text>
<line x1="432.00" y1="218.00" x2="469.30" y2="218.00" stroke="#333" stroke-width="1.3" />
<polygon points="450.60,211.90 451.16,213.24 452.60,213.35 451.50,214.29 451.83,215.70 450.60,214.94 449.37,215.70 449.70,214.29 448.60,213.35 450.04,213.24" fill="#111"/>
<line x1="54.00" y1="539.80" x2="57.60" y2="539.80" stroke="#111" stroke-width="1.1" />
<text x="50.80" y="543.00" font-size="10.3" fill="#1a1a1a" text-anchor="end" font-weight="normal" textLength="4.95" lengthAdjust="spacingAndGlyphs" stroke="#1a1a1a" stroke-width="0.15">0</text>
<line x1="54.00" y1="521.82" x2="57.60" y2="521.82" stroke="#111" stroke-width="1.1" />
<text x="50.80" y="525.02" font-size="10.3" fill="#1a1a1a" text-anchor="end" font-weight="normal" textLength="9.9" lengthAdjust="spacingAndGlyphs" stroke="#1a1a1a" stroke-width="0.15">20</text>
<line x1="54.00" y1="503.84" x2="57.60" y2="503.84" stroke="#111" stroke-width="1.1" />
<text x="50.80" y="507.04" font-size="10.3" fill="#1a1a1a" text-anchor="end" font-weight="normal" textLength="9.9" lengthAdjust="spacingAndGlyphs" stroke="#1a1a1a" stroke-width="0.15">40</text>
<line x1="54.00" y1="485.86" x2="57.60" y2="485.86" stroke="#111" stroke-width="1.1" />
<text x="50.80" y="489.06" font-size="10.3" fill="#1a1a1a" text-anchor="end" font-weight="normal" textLength="9.9" lengthAdjust="spacingAndGlyphs" stroke="#1a1a1a" stroke-width="0.15">60</text>
<line x1="54.00" y1="467.88" x2="57.60" y2="467.88" stroke="#111" stroke-width="1.1" />
<text x="50.80" y="471.08" font-size="10.3" fill="#1a1a1a" text-anchor="end" font-weight="normal" textLength="9.9" lengthAdjust="spacingAndGlyphs" stroke="#1a1a1a" stroke-width="0.15">80</text>
<line x1="54.00" y1="449.90" x2="57.60" y2="449.90" stroke="#111" stroke-width="1.1" />
<text x="50.80" y="453.10" font-size="10.3" fill="#1a1a1a" text-anchor="end" font-weight="normal" textLength="14.850000000000001" lengthAdjust="spacingAndGlyphs" stroke="#1a1a1a" stroke-width="0.15">100</text>
<text transform="translate(29.40,492.30) rotate(-90)" x="0" y="0" font-size="10.8" fill="#1a1a1a" stroke="#1a1a1a" stroke-width="0.15" text-anchor="middle" textLength="55.2" lengthAdjust="spacingAndGlyphs">Hemolysis [%]</text>
<rect x="87.70" y="450.20" width="26.40" height="89.60" fill="#4f5566" stroke="#454b5a" stroke-width="0.6"/>
<rect x="122.10" y="530.40" width="26.80" height="9.40" fill="#dc8c18" stroke="#c27a10" stroke-width="0.6"/>
<rect x="156.70" y="516.20" width="26.80" height="23.60" fill="#6ca542" stroke="#5f953a" stroke-width="0.6"/>
<rect x="191.00" y="515.10" width="26.90" height="24.70" fill="#a3002c" stroke="#8f0025" stroke-width="0.6"/>
<line x1="57.60" y1="446.70" x2="57.60" y2="540.40" stroke="#111" stroke-width="1.35" />
<line x1="54.00" y1="539.80" x2="247.90" y2="539.80" stroke="#1c1c1c" stroke-width="1.45" />
<line x1="100.90" y1="449.60" x2="100.90" y2="450.60" stroke="#111" stroke-width="1.2" />
<line x1="98.30" y1="449.60" x2="103.50" y2="449.60" stroke="#111" stroke-width="1.2" />
<line x1="98.30" y1="450.60" x2="103.50" y2="450.60" stroke="#111" stroke-width="1.2" />
<line x1="135.50" y1="526.90" x2="135.50" y2="534.10" stroke="#111" stroke-width="1.2" />
<line x1="132.90" y1="526.90" x2="138.10" y2="526.90" stroke="#111" stroke-width="1.2" />
<line x1="132.90" y1="534.10" x2="138.10" y2="534.10" stroke="#111" stroke-width="1.2" />
<line x1="170.10" y1="512.80" x2="170.10" y2="519.40" stroke="#111" stroke-width="1.2" />
<line x1="167.50" y1="512.80" x2="172.70" y2="512.80" stroke="#111" stroke-width="1.2" />
<line x1="167.50" y1="519.40" x2="172.70" y2="519.40" stroke="#111" stroke-width="1.2" />
<line x1="204.45" y1="510.50" x2="204.45" y2="520.60" stroke="#111" stroke-width="1.2" />
<line x1="201.85" y1="510.50" x2="207.05" y2="510.50" stroke="#111" stroke-width="1.2" />
<line x1="201.85" y1="520.60" x2="207.05" y2="520.60" stroke="#111" stroke-width="1.2" />
<path d="M133.1,479.6 L185.9,479.6 L185.9,486.2 M157.0,486.2 L213.0,486.2" fill="none" stroke="#222" stroke-width="1.2"/>
<polygon points="158.50,473.10 159.06,474.44 160.50,474.55 159.40,475.49 159.73,476.90 158.50,476.14 157.27,476.90 157.60,475.49 156.50,474.55 157.94,474.44" fill="#111"/>
<line x1="171.10" y1="503.80" x2="202.00" y2="503.80" stroke="#444" stroke-width="1.3" />
<text x="185.60" y="501.90" font-size="8.6" fill="#222" text-anchor="middle" font-weight="normal" textLength="8.4" lengthAdjust="spacingAndGlyphs" >ns</text>
<line x1="318.00" y1="539.80" x2="321.60" y2="539.80" stroke="#111" stroke-width="1.1" />
<text x="314.50" y="543.00" font-size="10.3" fill="#1a1a1a" text-anchor="end" font-weight="normal" textLength="4.95" lengthAdjust="spacingAndGlyphs" stroke="#1a1a1a" stroke-width="0.15">0</text>
<line x1="318.00" y1="521.82" x2="321.60" y2="521.82" stroke="#111" stroke-width="1.1" />
<text x="314.50" y="525.02" font-size="10.3" fill="#1a1a1a" text-anchor="end" font-weight="normal" textLength="9.9" lengthAdjust="spacingAndGlyphs" stroke="#1a1a1a" stroke-width="0.15">20</text>
<line x1="318.00" y1="503.84" x2="321.60" y2="503.84" stroke="#111" stroke-width="1.1" />
<text x="314.50" y="507.04" font-size="10.3" fill="#1a1a1a" text-anchor="end" font-weight="normal" textLength="9.9" lengthAdjust="spacingAndGlyphs" stroke="#1a1a1a" stroke-width="0.15">40</text>
<line x1="318.00" y1="485.86" x2="321.60" y2="485.86" stroke="#111" stroke-width="1.1" />
<text x="314.50" y="489.06" font-size="10.3" fill="#1a1a1a" text-anchor="end" font-weight="normal" textLength="9.9" lengthAdjust="spacingAndGlyphs" stroke="#1a1a1a" stroke-width="0.15">60</text>
<line x1="318.00" y1="467.88" x2="321.60" y2="467.88" stroke="#111" stroke-width="1.1" />
<text x="314.50" y="471.08" font-size="10.3" fill="#1a1a1a" text-anchor="end" font-weight="normal" textLength="9.9" lengthAdjust="spacingAndGlyphs" stroke="#1a1a1a" stroke-width="0.15">80</text>
<line x1="318.00" y1="449.90" x2="321.60" y2="449.90" stroke="#111" stroke-width="1.1" />
<text x="314.50" y="453.10" font-size="10.3" fill="#1a1a1a" text-anchor="end" font-weight="normal" textLength="14.850000000000001" lengthAdjust="spacingAndGlyphs" stroke="#1a1a1a" stroke-width="0.15">100</text>
<text transform="translate(294.60,492.30) rotate(-90)" x="0" y="0" font-size="10.8" fill="#1a1a1a" stroke="#1a1a1a" stroke-width="0.15" text-anchor="middle" textLength="55.2" lengthAdjust="spacingAndGlyphs">Hemolysis [%]</text>
<rect x="351.10" y="450.20" width="26.80" height="89.60" fill="#4f5566" stroke="#454b5a" stroke-width="0.6"/>
<rect x="385.90" y="530.70" width="26.80" height="9.10" fill="#dc8c18" stroke="#c27a10" stroke-width="0.6"/>
<rect x="420.50" y="481.30" width="26.80" height="58.50" fill="#6ca542" stroke="#5f953a" stroke-width="0.6"/>
<rect x="454.50" y="493.70" width="27.10" height="46.10" fill="#a3002c" stroke="#8f0025" stroke-width="0.6"/>
<line x1="321.60" y1="446.70" x2="321.60" y2="540.40" stroke="#111" stroke-width="1.35" />
<line x1="318.00" y1="539.80" x2="511.90" y2="539.80" stroke="#1c1c1c" stroke-width="1.45" />
<line x1="364.50" y1="449.60" x2="364.50" y2="450.60" stroke="#111" stroke-width="1.2" />
<line x1="361.90" y1="449.60" x2="367.10" y2="449.60" stroke="#111" stroke-width="1.2" />
<line x1="361.90" y1="450.60" x2="367.10" y2="450.60" stroke="#111" stroke-width="1.2" />
<line x1="399.30" y1="528.90" x2="399.30" y2="532.40" stroke="#111" stroke-width="1.2" />
<line x1="396.70" y1="528.90" x2="401.90" y2="528.90" stroke="#111" stroke-width="1.2" />
<line x1="396.70" y1="532.40" x2="401.90" y2="532.40" stroke="#111" stroke-width="1.2" />
<line x1="433.90" y1="475.30" x2="433.90" y2="486.80" stroke="#111" stroke-width="1.2" />
<line x1="431.30" y1="475.30" x2="436.50" y2="475.30" stroke="#111" stroke-width="1.2" />
<line x1="431.30" y1="486.80" x2="436.50" y2="486.80" stroke="#111" stroke-width="1.2" />
<line x1="468.05" y1="488.60" x2="468.05" y2="499.20" stroke="#111" stroke-width="1.2" />
<line x1="465.45" y1="488.60" x2="470.65" y2="488.60" stroke="#111" stroke-width="1.2" />
<line x1="465.45" y1="499.20" x2="470.65" y2="499.20" stroke="#111" stroke-width="1.2" />
<path d="M396.0,443.6 L449.3,443.6 L449.3,450.5 M419.9,450.5 L476.7,450.5" fill="none" stroke="#222" stroke-width="1.2"/>
<polygon points="422.50,437.70 423.06,439.04 424.50,439.15 423.40,440.09 423.73,441.50 422.50,440.75 421.27,441.50 421.60,440.09 420.50,439.15 421.94,439.04" fill="#111"/>
<line x1="434.00" y1="467.80" x2="465.20" y2="467.80" stroke="#444" stroke-width="1.3" />
<text x="448.70" y="466.40" font-size="8.6" fill="#222" text-anchor="middle" font-weight="normal" textLength="8.4" lengthAdjust="spacingAndGlyphs" >ns</text>
<ellipse cx="89.8" cy="359.4" rx="17.2" ry="13.6" fill="#c2655d" stroke="#a80f2c" stroke-width="1.9"/>
<text x="89.80" y="362.40" font-size="9.4" fill="#f8ebe9" text-anchor="middle" font-weight="normal" textLength="18.0" lengthAdjust="spacingAndGlyphs" >RBC</text>
<rect x="151.6" y="334.0" width="140.2" height="50.6" rx="8.5" ry="8.5" fill="#fff" stroke="#9a9a9a" stroke-width="1.0"/>
<text x="160.90" y="346.30" font-size="9.2" fill="#4b5268" text-anchor="start" font-weight="normal" textLength="42.3" lengthAdjust="spacingAndGlyphs" >water lysis</text>
<text x="160.90" y="356.90" font-size="9.2" fill="#e39a2b" text-anchor="start" font-weight="normal" textLength="46.5" lengthAdjust="spacingAndGlyphs" >cells in PBS</text>
<text x="160.90" y="367.60" font-size="9.2" fill="#6aaa3d" text-anchor="start" font-weight="normal" textLength="123.4" lengthAdjust="spacingAndGlyphs" >C5-9 + fluid phase convertase</text>
<text x="160.90" y="378.30" font-size="9.2" fill="#b0102d" text-anchor="start" font-weight="normal" textLength="121.2" lengthAdjust="spacingAndGlyphs" >C5-9 – fluid phase convertase</text>
<ellipse transform="translate(343.28837197135425,348.74781170435534) rotate(57)" rx="10.8" ry="3.9" fill="#7c828e" stroke="#535a68" stroke-width="1.0"/><ellipse transform="translate(350.44673275764336,340.53135691475114) rotate(69)" rx="10.0" ry="4.0" fill="#7c828e" stroke="#535a68" stroke-width="1.0"/><ellipse transform="translate(364.9572592646959,337.3911396492327) rotate(-75)" rx="10.0" ry="4.0" fill="#7c828e" stroke="#535a68" stroke-width="1.0"/><ellipse transform="translate(376.99763455600953,338.8637863236664) rotate(-52)" rx="10.2" ry="4.0" fill="#7c828e" stroke="#535a68" stroke-width="1.0"/><ellipse transform="translate(387.41910333611577,346.25198608313383) rotate(-25)" rx="10.2" ry="4.0" fill="#7c828e" stroke="#535a68" stroke-width="1.0"/><ellipse transform="translate(392.21232723971116,355.68537613209963) rotate(10)" rx="10.2" ry="3.9" fill="#7c828e" stroke="#535a68" stroke-width="1.0"/><ellipse transform="translate(389.5456651134005,369.97819296219853) rotate(50)" rx="10.5" ry="4.0" fill="#7c828e" stroke="#535a68" stroke-width="1.0"/><ellipse transform="translate(375.31224729197015,380.2877129522054) rotate(-70)" rx="10.5" ry="3.9" fill="#7c828e" stroke="#535a68" stroke-width="1.0"/><ellipse transform="translate(366.2704986815341,381.4017761495734) rotate(-55)" rx="10.5" ry="3.9" fill="#7c828e" stroke="#535a68" stroke-width="1.0"/><ellipse transform="translate(355.1471576629317,378.4160424725851) rotate(-55)" rx="10.5" ry="3.9" fill="#7c828e" stroke="#535a68" stroke-width="1.0"/><ellipse transform="translate(344.0377923057973,371.3458821148226) rotate(-20)" rx="10.0" ry="3.8" fill="#7c828e" stroke="#535a68" stroke-width="1.0"/><ellipse transform="translate(341.78965892505653,362.13015279804864) rotate(20)" rx="10.2" ry="3.9" fill="#7c828e" stroke="#535a68" stroke-width="1.0"/><ellipse transform="translate(354.338155087301,338.54284583525816) rotate(56)" rx="5.5" ry="3.0" fill="#7c828e" stroke="#535a68" stroke-width="1.0"/><ellipse transform="translate(369.7017127813066,335.695158089271) rotate(70)" rx="4.8" ry="3.0" fill="#7c828e" stroke="#535a68" stroke-width="1.0"/><ellipse transform="translate(381.41988993846775,339.3145381000966) rotate(60)" rx="5.2" ry="3.2" fill="#7c828e" stroke="#535a68" stroke-width="1.0"/><ellipse transform="translate(391.69436849959436,347.62406554384074) rotate(-20)" rx="4.4" ry="2.8" fill="#7c828e" stroke="#535a68" stroke-width="1.0"/><ellipse transform="translate(396.5034314459136,361.4172285254081) rotate(-20)" rx="5.2" ry="3.0" fill="#7c828e" stroke="#535a68" stroke-width="1.0"/><ellipse transform="translate(385.5150899912321,378.271372331098) rotate(45)" rx="5.5" ry="3.0" fill="#7c828e" stroke="#535a68" stroke-width="1.0"/><ellipse transform="translate(381.20919172226115,369.6879360590104) rotate(40)" rx="4.2" ry="2.8" fill="#7c828e" stroke="#535a68" stroke-width="1.0"/><ellipse transform="translate(372.4024227121796,383.8197126873526) rotate(65)" rx="4.0" ry="2.4" fill="#7c828e" stroke="#535a68" stroke-width="1.0"/><ellipse transform="translate(361.25178124794735,382.6322158282024) rotate(55)" rx="5.0" ry="2.6" fill="#7c828e" stroke="#535a68" stroke-width="1.0"/><ellipse transform="translate(350.7431049019219,378.8342219086942) rotate(60)" rx="5.0" ry="2.6" fill="#7c828e" stroke="#535a68" stroke-width="1.0"/><ellipse transform="translate(342.2252643478268,369.3206770681323) rotate(-20)" rx="5.2" ry="3.0" fill="#7c828e" stroke="#535a68" stroke-width="1.0"/><ellipse transform="translate(343.9983579902801,357.6572828355079) rotate(15)" rx="5.2" ry="3.0" fill="#7c828e" stroke="#535a68" stroke-width="1.0"/><ellipse transform="translate(343.5315320045155,343.0554768451217) rotate(50)" rx="4.8" ry="2.8" fill="#7c828e" stroke="#535a68" stroke-width="1.0"/><ellipse transform="translate(358.1869210411245,342.47344599129553) rotate(45)" rx="3.2" ry="2.4" fill="#7c828e" stroke="#535a68" stroke-width="1.0"/>
<ellipse cx="367.4" cy="359.0" rx="18.2" ry="14.8" fill="#fff"/>
<ellipse cx="367.4" cy="359.0" rx="17.2" ry="13.8" fill="#c2655d" stroke="#a80f2c" stroke-width="1.9"/>
<circle cx="359.0" cy="344.4" r="1.5" fill="#a80f2c"/><circle cx="380.6" cy="371.0" r="1.5" fill="#a80f2c"/>
<text x="367.40" y="362.20" font-size="9.4" fill="#f8ebe9" text-anchor="middle" font-weight="normal" textLength="17.8" lengthAdjust="spacingAndGlyphs" >RBC</text>
<line x1="409.8" y1="357.3" x2="427.1" y2="353.9" stroke="#444" stroke-width="1.2" stroke-dasharray="2.4,1.3"/>
<text x="438.70" y="345.60" font-size="9.9" fill="#1a1a1a" text-anchor="middle" font-weight="normal" textLength="16.8" lengthAdjust="spacingAndGlyphs" stroke="#111" stroke-width="0.12">C3b</text>
<text x="438.70" y="357.00" font-size="9.9" fill="#1a1a1a" text-anchor="middle" font-weight="normal" textLength="8.6" lengthAdjust="spacingAndGlyphs" stroke="#111" stroke-width="0.12">or</text>
<text x="438.70" y="367.50" font-size="9.9" fill="#1a1a1a" text-anchor="middle" font-weight="normal" textLength="16.8" lengthAdjust="spacingAndGlyphs" stroke="#111" stroke-width="0.12">C4b</text>
</svg></body></html>
